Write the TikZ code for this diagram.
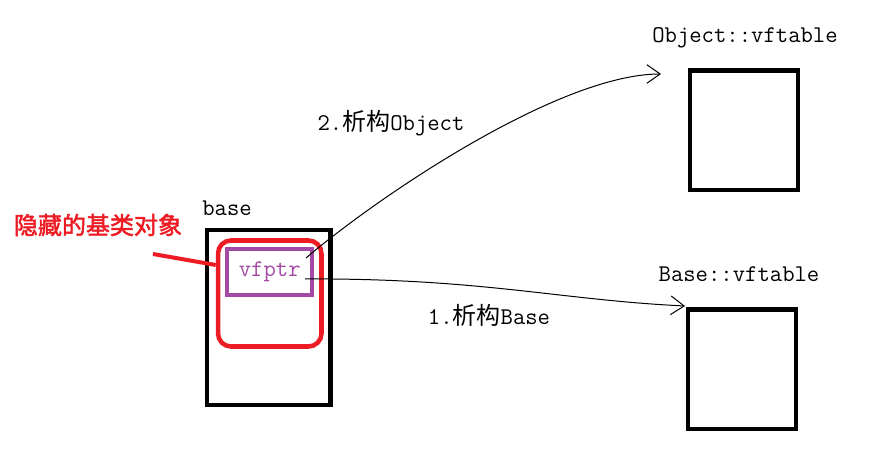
\documentclass[tikz,border=0pt]{standalone}
\usepackage{fontspec}
\newfontfamily\cjk{Noto Sans CJK SC}
\newfontfamily\cjkbf[FakeBold=2]{Noto Sans CJK SC}
\usetikzlibrary{arrows.meta}
\definecolor{hidred}{RGB}{237,28,36}
\definecolor{ptrpurple}{RGB}{163,73,164}

\begin{document}
\begin{tikzpicture}[x=0.75pt,y=-0.75pt,
	font=\fontsize{18}{20}\selectfont\ttfamily,
	box/.style={draw, line width=3.4pt, inner sep=0pt},
	link/.style={line width=0.75pt, -{Straight Barb[length=10pt,width=14pt]}}]
	\useasboundingbox (0,0) rectangle (886,466);

	% Object layout
	\node[box, minimum width=92.6pt, minimum height=131.25pt] (base) at (268.75,317.5) {};
	\node (baselbl) at (227,208) {base};

	% Hidden base class part
	\node[box, draw=hidred, rounded corners=9.75pt, minimum width=77.6pt, minimum height=79.5pt] (hidden) at (269.75,293.5) {};
	\node[text=hidred] (hiddenlbl) at (98,225) {\cjkbf 隐藏的基类对象};
	\coordinate (hidtail) at (153,254);
	\draw[hidred, line width=3pt] (hidtail) -- (hidden.west |- 0,265);

	% vfptr
	\node[box, draw=ptrpurple, line width=3pt, minimum width=64.1pt, minimum height=34.5pt, text=ptrpurple] (vfptr) at (269.75,272) {vfptr};

	% Object vftable
	\node[box, minimum width=81pt, minimum height=89.6pt] (objtab) at (744,130.25) {};
	\node (objlbl) at (745,38) {Object::vftable};

	% Base vftable
	\node[box, minimum width=81pt, minimum height=89.6pt] (basetab) at (742,369.25) {};
	\node (baselbl2) at (739,274) {Base::vftable};

	% Destruction steps
	\coordinate (ptrup) at (306,258);
	\coordinate (ptrdn) at (305,279);
	\coordinate (tipobj) at (661,74);
	\coordinate (tipbase) at (685,306);
	\draw[link] (ptrup) .. controls (380,195) and (560,74) .. (tipobj);
	\node (step2) at (391,123) {2.{\cjk 析构}Object};
	\draw[link] (ptrdn) .. controls (480,278) and (560,300) .. (tipbase);
	\node (step1) at (489,315) {1.{\cjk 析构}Base};
\end{tikzpicture}
\end{document}
